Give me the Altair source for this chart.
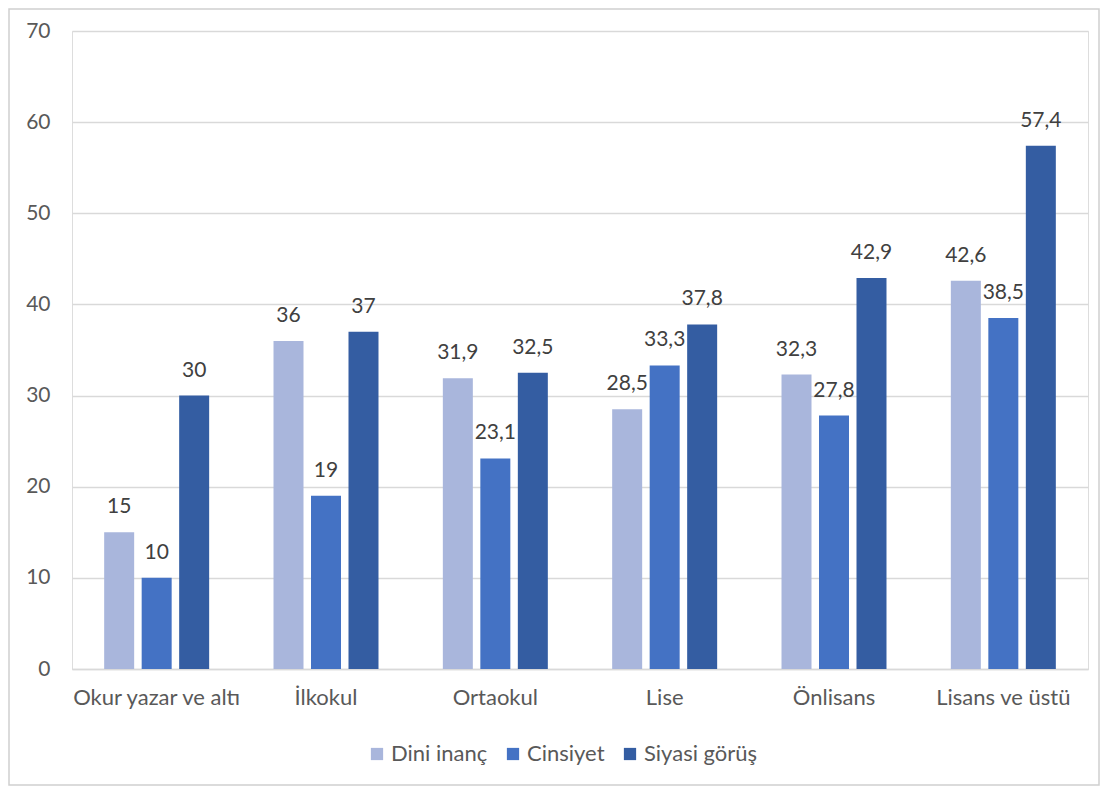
import altair as alt
import pandas as pd

categories = ["Okur yazar ve altı", "İlkokul", "Ortaokul", "Lise", "Önlisans", "Lisans ve üstü"]
series = ["Dini inanç", "Cinsiyet", "Siyasi görüş"]
dini_inanc = [15, 36, 31.9, 28.5, 32.3, 42.6]
cinsiyet = [10, 19, 23.1, 33.3, 27.8, 38.5]
siyasi_gorus = [30, 37, 32.5, 37.8, 42.9, 57.4]
colors = ["#A9B6DC", "#4472C4", "#345DA2"]

rows = []
for s, vals in zip(series, [dini_inanc, cinsiyet, siyasi_gorus]):
    for c, v in zip(categories, vals):
        rows.append({"kategori": c, "seri": s, "deger": v,
                     "etiket": f"{v:g}".replace(".", ",")})
df = pd.DataFrame(rows)

FONT = "Lato"

x_enc = alt.X("kategori:N", sort=categories, title=None,
              scale=alt.Scale(paddingInner=0.38, paddingOuter=0.19),
              axis=alt.Axis(labelAngle=0, labelFontSize=22, labelColor="#595959",
                            labelFont=FONT, labelPadding=18, ticks=False,
                            domainColor="#D9D9D9", domainWidth=1.5))
xoff = alt.XOffset("seri:N", sort=series, scale=alt.Scale(paddingInner=0.2, paddingOuter=0))
y_enc = alt.Y("deger:Q", title=None,
              scale=alt.Scale(domain=[0, 70], nice=False),
              axis=alt.Axis(values=list(range(0, 80, 10)), labelFontSize=21,
                            labelColor="#595959", labelFont=FONT, labelPadding=22,
                            ticks=False, domain=False, gridColor="#D9D9D9",
                            gridWidth=1.5))

base = alt.Chart(df)

bars = base.mark_bar().encode(
    x=x_enc,
    xOffset=xoff,
    y=y_enc,
    color=alt.Color("seri:N", sort=series, title=None,
                    scale=alt.Scale(domain=series, range=colors),
                    legend=alt.Legend(orient="none", legendX=294, legendY=712,
                                      direction="horizontal", symbolType="square",
                                      symbolSize=150, symbolStrokeWidth=0,
                                      labelFontSize=22, labelColor="#595959",
                                      labelFont=FONT, labelOffset=3,
                                      columnPadding=14)),
)

labels = base.mark_text(baseline="middle", dy=-25, fontSize=21, color="#404040",
                        font=FONT).encode(
    x=alt.X("kategori:N", sort=categories),
    xOffset=alt.XOffset("seri:N", sort=series),
    y=alt.Y("deger:Q"),
    text="etiket:N",
)

border = alt.Chart(alt.Data(values=[{"a": 1}])).mark_rect(
    fill="transparent", stroke="#D0D0D0", strokeWidth=1.5, clip=False
).encode(x=alt.value(-63), x2=alt.value(1027), y=alt.value(-22), y2=alt.value(754))

chart = alt.layer(bars, labels, border).properties(
    width=1016, height=638,
    padding={"left": 64, "top": 23, "right": 12, "bottom": 117},
    autosize=alt.AutoSizeParams(type="none"),
).configure_view(stroke=None).configure(background="white")

chart.save("out.html", embed_options={"renderer": "svg", "actions": False})
